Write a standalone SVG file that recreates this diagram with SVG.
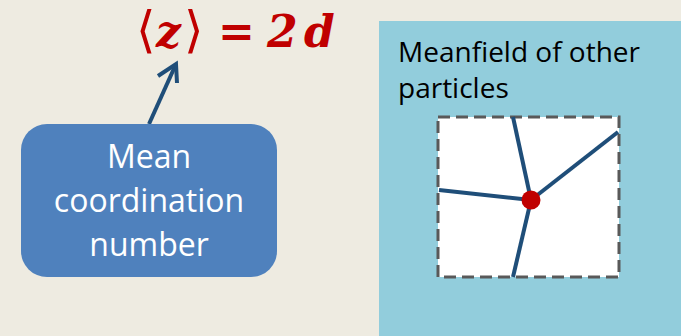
<svg xmlns="http://www.w3.org/2000/svg" width="681" height="336" viewBox="0 0 681 336">
<style>
.bg{fill:#EEEBE1}
.panel{fill:#92CDDC}
.eq{font-family:"DejaVu Serif","Liberation Serif",serif;font-weight:bold;font-style:italic;fill:#C00000;font-size:44px}
.br{font-weight:normal;font-style:normal;font-size:50px}
.up{font-style:normal}
.boxtxt{font-family:"Open Sans","Noto Sans",sans-serif;fill:#FFFFFF;font-size:32px;text-anchor:middle}
.ptxt{font-family:"Open Sans","Noto Sans",sans-serif;fill:#000000;font-size:28px}
.edge{stroke:#1F4E79;stroke-width:4;fill:none;stroke-linecap:butt}
</style>
<rect class="bg" x="0" y="0" width="681" height="336"/>
<g id="equation">
<text class="eq" y="47"><tspan class="br" x="136">⟨</tspan><tspan x="156">z</tspan><tspan class="br" x="184">⟩</tspan><tspan class="up" x="218">=</tspan><tspan x="267">2</tspan><tspan x="304">d</tspan></text>
</g>
<g id="panel">
<rect class="panel" x="379" y="21" width="302" height="315"/>
<text class="ptxt" x="398" y="62">Meanfield of other</text>
<text class="ptxt" x="398" y="98">particles</text>
</g>
<g id="cell">
<rect x="438" y="117" width="181" height="160" fill="#FFFFFF" stroke="#595959" stroke-width="3" stroke-dasharray="12,6"/>
</g>
<g id="connectors">
<line class="edge" x1="513" y1="117" x2="531" y2="200"/>
<line class="edge" x1="618" y1="132" x2="531" y2="200"/>
<line class="edge" x1="439" y1="190" x2="531" y2="200"/>
<line class="edge" x1="513" y1="277" x2="531" y2="200"/>
<path class="edge" d="M149 124 L176 64" stroke-width="3.5"/>
<path class="edge" d="M158 76 L176 64 L177 83" stroke-width="3.5" stroke-linejoin="miter"/>
</g>
<g id="particle">
<circle cx="531" cy="200" r="9.5" fill="#C00000"/>
</g>
<g id="mean-box">
<rect x="21" y="124" width="256" height="153" rx="26" ry="26" fill="#4F81BD"/>
<text class="boxtxt" x="149" y="168">Mean</text>
<text class="boxtxt" x="149" y="212">coordination</text>
<text class="boxtxt" x="149" y="256">number</text>
</g>
</svg>
